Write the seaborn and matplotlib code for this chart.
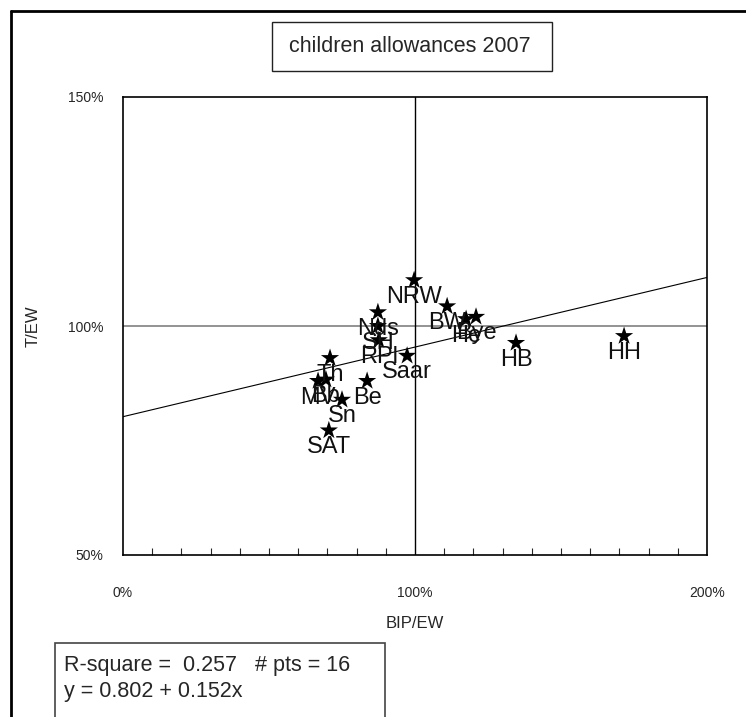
import numpy as np
import pandas as pd
import seaborn as sns
import matplotlib.pyplot as plt
from matplotlib.patches import Rectangle
from matplotlib.lines import Line2D
from matplotlib.ticker import PercentFormatter, MultipleLocator

# data (1.0 = 100%)
states = ['NRW', 'Nds', 'SH', 'RPl', 'Saar', 'BW', 'He', 'Bye',
          'HB', 'HH', 'Th', 'MV', 'Bb', 'Be', 'Sn', 'SAT']
bip_ew = [0.997, 0.873, 0.873, 0.876, 0.973, 1.110, 1.175, 1.209,
          1.346, 1.716, 0.709, 0.668, 0.695, 0.836, 0.750, 0.705]
t_ew = [1.100, 1.030, 1.000, 0.969, 0.935, 1.043, 1.015, 1.020,
        0.963, 0.978, 0.930, 0.880, 0.883, 0.880, 0.839, 0.772]

intercept = 0.802
slope = 0.152
r_square = 0.257

title = 'children allowances 2007'

df = pd.DataFrame({'state': states, 'BIP/EW': bip_ew, 'T/EW': t_ew})

sns.set_style('white')
plt.rcParams['font.family'] = ['Liberation Sans', 'DejaVu Sans']

W, H = 746, 717
fig = plt.figure(figsize=(W / 100, H / 100), dpi=100)


def fx(px):
    return px / W


def fy(py):
    return 1 - py / H


ax = fig.add_axes([fx(123), fy(555), fx(707 - 123), (555 - 97) / H])

# reference lines at 100%
ax.axhline(1.0, color='#808080', lw=1.2, zorder=1)
ax.axvline(1.0, color='black', lw=1.0, zorder=1)

# trend line from the fitted coefficients
xs = np.linspace(0, 2, 200)
fit = pd.DataFrame({'x': xs, 'y': intercept + slope * xs})
sns.lineplot(data=fit, x='x', y='y', ax=ax, color='black', lw=0.8, zorder=2)

sns.scatterplot(data=df, x='BIP/EW', y='T/EW', ax=ax, marker='*', s=190,
                color='black', edgecolor='none', zorder=3)

for _, row in df.iterrows():
    ax.annotate(row['state'], (row['BIP/EW'], row['T/EW']),
                xytext=(0, -4), textcoords='offset points',
                ha='center', va='top', fontsize=17, color='#111111')

ax.set_xlim(0, 2)
ax.set_ylim(0.5, 1.5)
ax.xaxis.set_major_locator(MultipleLocator(1.0))
ax.xaxis.set_minor_locator(MultipleLocator(0.1))
ax.yaxis.set_major_locator(MultipleLocator(0.5))
ax.xaxis.set_major_formatter(PercentFormatter(xmax=1, decimals=0))
ax.yaxis.set_major_formatter(PercentFormatter(xmax=1, decimals=0))
ax.tick_params(axis='x', which='major', length=0, pad=22, labelsize=10)
ax.tick_params(axis='x', which='minor', direction='in', length=5, width=0.8,
               bottom=True)
ax.tick_params(axis='y', which='major', length=0, pad=14, labelsize=10)

for sp in ax.spines.values():
    sp.set_color('black')
    sp.set_linewidth(1.2)

ax.set_xlabel('BIP/EW', fontsize=12, labelpad=12)
ax.set_ylabel('T/EW', fontsize=12, labelpad=20)

# title box
fig.add_artist(Rectangle((fx(272), fy(71)), fx(552 - 272), (71 - 22) / H,
                         fill=False, edgecolor='#222222', lw=1.0,
                         transform=fig.transFigure))
fig.text(fx(410), fy(47), title, ha='center', va='center', fontsize=15.5)

# stats box
fig.add_artist(Rectangle((fx(55), fy(740)), fx(385 - 55), (740 - 643) / H,
                         fill=False, edgecolor='#444444', lw=1.2,
                         transform=fig.transFigure))
fig.text(fx(64), fy(666), f'R-square =  {r_square:.3f}   # pts = {len(states)}',
         ha='left', va='center', fontsize=15.5)
fig.text(fx(64), fy(691), f'y = {intercept:.3f} + {slope:.3f}x',
         ha='left', va='center', fontsize=15.5)

# outer frame (left and top edges)
fig.add_artist(Line2D([fx(11), fx(11)], [fy(11), 0], color='black', lw=2,
                      transform=fig.transFigure))
fig.add_artist(Line2D([fx(11), 1], [fy(11), fy(11)], color='black', lw=2,
                      transform=fig.transFigure))

fig.savefig('out.png', dpi=100)
